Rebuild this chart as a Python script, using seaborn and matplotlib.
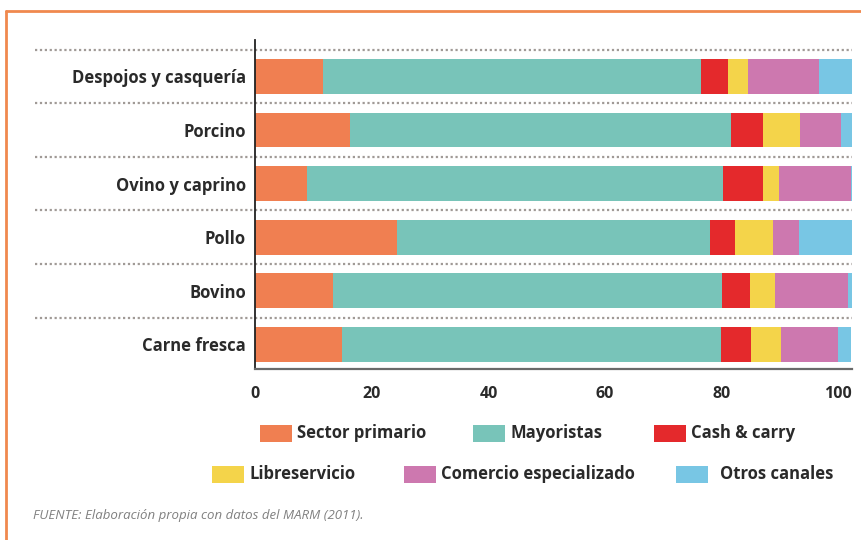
import matplotlib
matplotlib.use('Agg')
import matplotlib.pyplot as plt
import seaborn as sns
import numpy as np
from matplotlib.patches import Rectangle
from matplotlib.lines import Line2D

# data (percent of volume by channel)
categories = ['Despojos y casquería', 'Porcino', 'Ovino y caprino', 'Pollo', 'Bovino', 'Carne fresca']
series_names = ['Sector primario', 'Mayoristas', 'Cash & carry',
                'Libreservicio', 'Comercio especializado', 'Otros canales']
sector_primario = [11.6, 16.2, 8.8, 24.3, 13.3, 14.8]
mayoristas = [64.8, 65.4, 71.4, 53.7, 66.7, 65.1]
cash_carry = [4.6, 5.5, 6.8, 4.3, 4.8, 5.2]
libreservicio = [3.5, 6.3, 2.9, 6.5, 4.4, 5.1]
comercio = [12.2, 7.0, 12.3, 4.5, 12.5, 9.8]
otros = [5.6, 1.9, 0.3, 9.1, 0.7, 2.2]
xticks = [0, 20, 40, 60, 80, 100]

colors = ['#F07F51', '#78C4B9', '#E4292C', '#F4D44A', '#CD78AF', '#78C6E4']
text_color = '#2a2a2a'

sns.set_style('white')
plt.rcParams['font.family'] = ['Open Sans', 'DejaVu Sans']

fig = plt.figure(figsize=(8.62, 5.40), dpi=100)
ax = fig.add_axes([255.5 / 862, 1 - 369 / 540, (851.7 - 255.5) / 862, (369 - 40) / 540])

# stacked bars: draw cumulative totals from the longest down
values = np.array([sector_primario, mayoristas, cash_carry, libreservicio, comercio, otros])
cum = values.cumsum(axis=0)
for i in range(len(series_names) - 1, -1, -1):
    sns.barplot(x=cum[i], y=categories, orient='h', color=colors[i], width=0.65,
                saturation=1, linewidth=0, ax=ax)

ax.set_xlim(0, 102.3)
ax.set_ylim(5.46, -0.68)
ax.set_xticks(xticks)
ax.set_xlabel('')
ax.set_ylabel('')
ax.tick_params(axis='y', length=0, pad=7, labelsize=12, labelcolor=text_color)
ax.tick_params(axis='x', length=0, pad=12, labelsize=11.5, labelcolor=text_color)
for lab in ax.get_yticklabels() + ax.get_xticklabels():
    lab.set_fontweight('bold')

for s in ['top', 'right']:
    ax.spines[s].set_visible(False)
ax.spines['left'].set_color('#222222')
ax.spines['left'].set_linewidth(1.3)
ax.spines['bottom'].set_color('#6a6a6a')
ax.spines['bottom'].set_linewidth(1.6)

# dotted separators between categories
for k in range(len(categories)):
    ax.axhline(k - 0.5, xmin=(35 - 255.5) / 596.2, xmax=1, color='#a09a96',
               linestyle=(0, (1, 1.2)), lw=1.6, clip_on=False, zorder=0)

# legend, laid out by hand in two rows
W, H = 862, 540
legend_pos = [(260, 433), (473, 433), (654, 433), (212, 474), (404, 474), (676, 474)]
text_gap = [37, 38, 37, 38, 37, 44]
for i, name in enumerate(series_names):
    px, py = legend_pos[i]
    fig.patches.append(Rectangle((px / W, 1 - (py + 8.5) / H), 32 / W, 17 / H,
                                 transform=fig.transFigure, color=colors[i], lw=0))
    fig.text((px + text_gap[i]) / W, 1 - py / H, name, fontsize=12, fontweight='bold',
             color=text_color, va='center', ha='left')

fig.text(33 / W, 1 - 515 / H, 'FUENTE: Elaboración propia con datos del MARM (2011).',
         fontsize=9.5, style='italic', color='#808080', va='center', ha='left')

# orange frame on top and left
frame_color = '#F0894E'
fig.add_artist(Line2D([6 / W, 1], [1 - 11 / H, 1 - 11 / H], transform=fig.transFigure,
                      color=frame_color, lw=2))
fig.add_artist(Line2D([6 / W, 6 / W], [0, 1 - 11 / H], transform=fig.transFigure,
                      color=frame_color, lw=2))

fig.savefig('out.png', dpi=100)
